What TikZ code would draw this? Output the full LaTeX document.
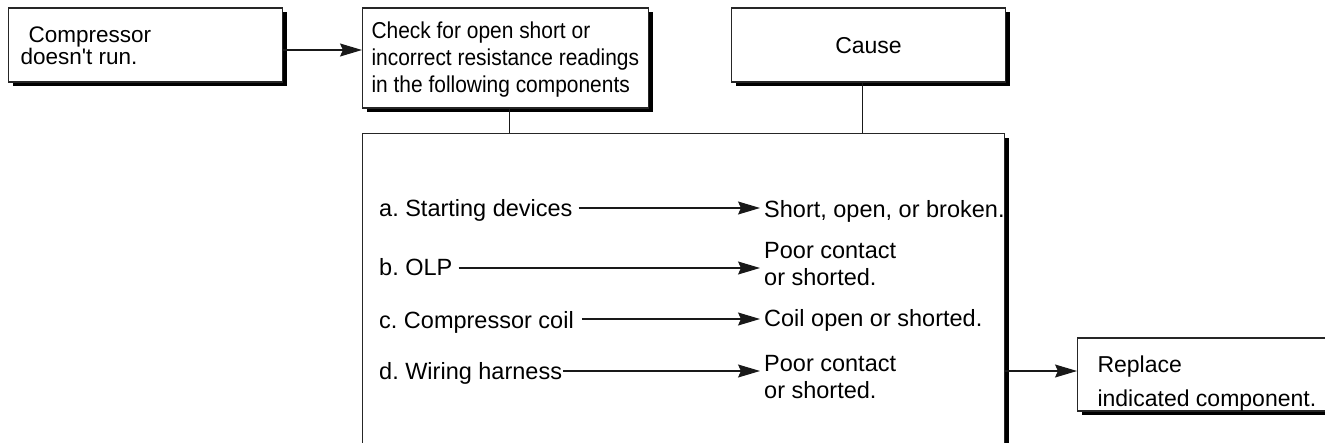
\documentclass[tikz,border=0pt]{standalone}
\usepackage{fontspec}
\setmainfont{Liberation Sans}
\newfontfamily\narrowfont[FakeStretch=0.91]{Liberation Sans}
\font\quotefont="Liberation Sans" at 22.5pt
\usetikzlibrary{arrows.meta,shadows}
\newcommand\stackl[1]{\begin{tabular}[t]{@{}l@{}}#1\end{tabular}}
\newcommand\tlines[2]{\makebox[#1][l]{\stackl{#2}}}
\frenchspacing
\begin{document}
\frenchspacing
\begin{tikzpicture}[x=1pt,y=-1pt,
  box/.style={draw=black!85, line width=1.1pt, fill=white,
    drop shadow={shadow xshift=4pt, shadow yshift=-4pt, fill=black, opacity=1},
    inner ysep=0pt, anchor=base west},
  txt/.style={inner sep=0pt, anchor=base west, font=\fontsize{23.5}{27.5}\selectfont},
  arr/.style={draw=black!90, line width=1.1pt, -{Stealth[length=22pt,width=13pt,inset=3pt]}},
  link/.style={draw=black!90, line width=1.3pt}]
\useasboundingbox[fill=white] (0,0) rectangle (1325,442);

% top boxes
\node[box, inner xsep=12pt, text height=34pt, text depth=40pt,
      font=\fontsize{22.5}{21}\selectfont] (box1) at (8,42)
  {\tlines{250pt}{\hspace*{8pt}Compressor\\doesn{\quotefont'}t run.}};
\node[box, inner xsep=9pt, text height=30pt, text depth=70pt,
      font=\narrowfont\fontsize{23}{27}\selectfont] (box2) at (362,38)
  {\tlines{268pt}{Check for open short or\\incorrect resistance readings\\in the following components}};
\node[box, inner xsep=0pt, text height=45pt, text depth=29pt,
      font=\fontsize{23}{27}\selectfont] (cause) at (731,53)
  {\makebox[274pt][c]{Cause}};

% panel
\node[box, anchor=north west, minimum width=642pt, minimum height=400pt, inner sep=0pt] (panel) at (362,133) {};

% replace box
\node[box, inner xsep=20pt, text height=34pt, text depth=39pt,
      font=\fontsize{23}{34}\selectfont] (rep) at (1077,372)
  {\tlines{240pt}{Replace\\indicated component.}};

% component list
\node[txt] (ta) at (379,216.5) {a. Starting devices};
\node[txt] (tb) at (379,275) {b. OLP};
\node[txt] (tc) at (379,328) {c. Compressor coil};
\node[txt] (td) at (379,379) {d. Wiring harness};
\node[txt] (ra) at (764,217) {Short, open, or broken.};
\node[txt] (rb) at (764,258) {\stackl{Poor contact\\or shorted.}};
\node[txt] (rc) at (764,326) {Coil open or shorted.};
\node[txt] (rd) at (764,371) {\stackl{Poor contact\\or shorted.}};

% levels
\coordinate (y0) at (0,50);
\coordinate (ya) at (0,208);
\coordinate (yb) at (0,268);
\coordinate (yc) at (0,319);
\coordinate (yd) at (0,371);

% connectors
\draw[arr] (box1.east |- y0) -- (box2.west |- y0);
\coordinate (v1) at ([xshift=4pt]box2.south);
\draw[link] (v1) -- (v1 |- panel.north);
\coordinate (v2) at ([xshift=-6pt]cause.south);
\draw[link] (v2) -- (v2 |- panel.north);

\draw[arr, shorten <=6pt, shorten >=4pt] (ta.east |- ya) -- (ra.west |- ya);
\draw[arr, shorten <=6pt, shorten >=4pt] (tb.east |- yb) -- (rb.west |- yb);
\draw[arr, shorten <=8pt, shorten >=4pt] (tc.east |- yc) -- (rc.west |- yc);
\draw[arr, shorten <=1pt, shorten >=4pt] (td.east |- yd) -- (rd.west |- yd);
\draw[arr] (panel.east |- yd) -- (rep.west |- yd);
\end{tikzpicture}
\end{document}
